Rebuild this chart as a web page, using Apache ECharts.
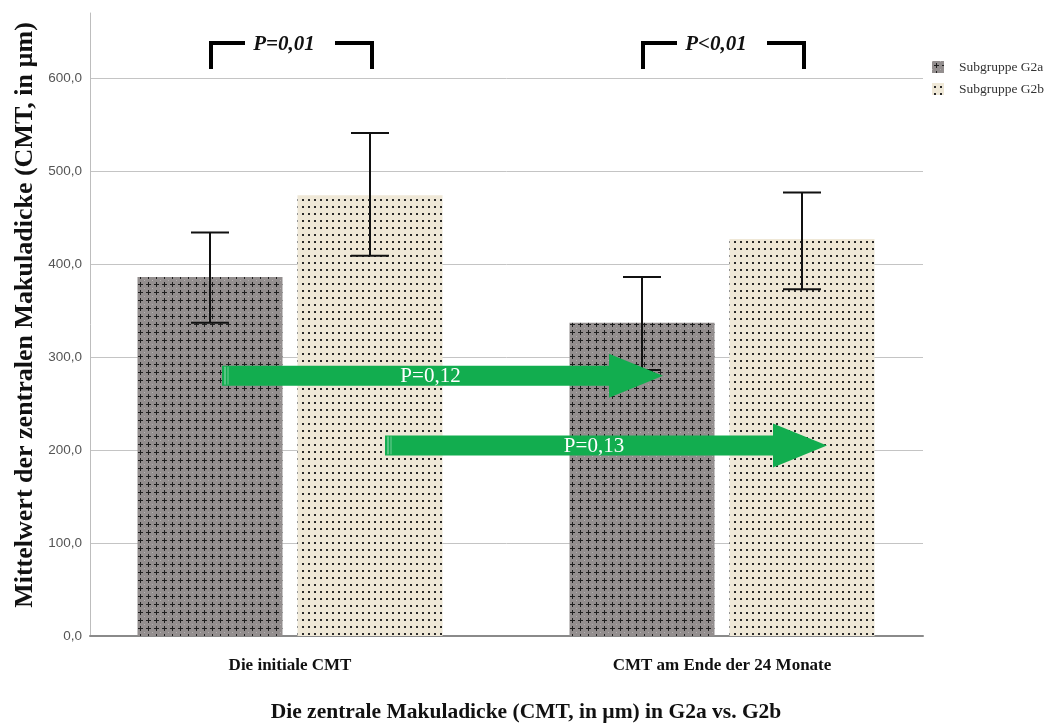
<!DOCTYPE html>
<html><head><meta charset="utf-8">
<script src="https://cdn.jsdelivr.net/npm/echarts@6/dist/echarts.min.js"></script>
<style>html,body{margin:0;padding:0;background:#fff}#c{width:1052px;height:727px}</style>
</head><body><div id="c"></div>
<script>
// ---- data ----
var categories = ['Die initiale CMT', 'CMT am Ende der 24 Monate'];
var seriesNames = ['Subgruppe G2a', 'Subgruppe G2b'];
var g2aMean = [386, 337];
var g2bMean = [474, 427];
var g2aLow = [337, 286];
var g2aHigh = [434, 386];
var g2bLow = [409, 373];
var g2bHigh = [541, 477];
var yTickValues = [0, 100, 200, 300, 400, 500, 600];
var pLabelsTop = ['P=0,01', 'P<0,01'];
var arrowLabels = ['P=0,12', 'P=0,13'];
var arrowValues = [280, 205];
var yTitle = 'Mittelwert der zentralen Makuladicke (CMT, in µm)';
var xTitle = 'Die zentrale Makuladicke (CMT, in µm) in G2a vs. G2b';

// ---- patterns ----
function crossPattern() {
  var c = document.createElement('canvas'); c.width = 8; c.height = 8;
  var g = c.getContext('2d');
  g.fillStyle = '#938e8e'; g.fillRect(0, 0, 8, 8);
  g.fillStyle = '#b5b1b1'; g.fillRect(0, 0, 1, 1);
  g.fillStyle = '#1e1e1e';
  g.fillRect(4, 2, 1, 5); g.fillRect(2, 4, 5, 1);
  return c;
}
function dotPattern() {
  var c = document.createElement('canvas'); c.width = 6; c.height = 7;
  var g = c.getContext('2d');
  g.fillStyle = '#efe8d7'; g.fillRect(0, 0, 6, 7);
  g.fillStyle = '#2a2a2a'; g.fillRect(2, 3, 2, 2);
  return c;
}
var patA = { image: crossPattern(), repeat: 'repeat' };
var patB = { image: dotPattern(), repeat: 'repeat' };

var BAR_W = 145, BAR_GAP = 15;
var OFF = (BAR_W + BAR_GAP) / 2;
var YMAX = 670;
var serif = '"Liberation Serif", "Times New Roman", serif';

function errSeries(name, low, high, offset) {
  return {
    type: 'custom', name: name + ' err', xAxisIndex: 0, yAxisIndex: 0, z: 5,
    data: low.map(function (l, i) { return [i, l, high[i]]; }),
    renderItem: function (params, api) {
      var lo = api.coord([api.value(0), api.value(1)]);
      var hi = api.coord([api.value(0), api.value(2)]);
      var x = lo[0] + offset, cw = 19;
      var st = { stroke: '#111', lineWidth: 2 };
      return { type: 'group', children: [
        { type: 'line', shape: { x1: x, y1: lo[1], x2: x, y2: hi[1] }, style: st },
        { type: 'line', shape: { x1: x - cw, y1: lo[1], x2: x + cw, y2: lo[1] }, style: st },
        { type: 'line', shape: { x1: x - cw, y1: hi[1], x2: x + cw, y2: hi[1] }, style: st }
      ]};
    },
    silent: true
  };
}

var splitColors = yTickValues.map(function () { return '#c4c4c4'; });
splitColors.push('rgba(0,0,0,0)');

var chart = echarts.init(document.getElementById('c'), null, { renderer: 'canvas' });
var option = {
  animation: false,
  backgroundColor: '#fff',
  grid: [
    { left: 74, right: 114, top: 13, bottom: 91, outerBoundsMode: 'none', containLabel: false },
    { left: 90, right: 129, top: 13, bottom: 91, outerBoundsMode: 'none', containLabel: false }
  ],
  legend: {
    data: seriesNames, orient: 'vertical', left: 927, top: 55,
    itemWidth: 12, itemHeight: 12, itemGap: 8,
    textStyle: { fontFamily: serif, fontSize: 13.5, color: '#333', padding: [0, 0, 0, 10] },
    icon: 'rect'
  },
  xAxis: [
    { type: 'category', gridIndex: 0, data: categories,
      axisLine: { show: false }, axisTick: { show: false },
      axisLabel: { margin: 21, fontFamily: serif, fontWeight: 'bold', fontSize: 17, color: '#111' }
    },
    { type: 'value', gridIndex: 1, min: 0, max: 1, show: true,
      axisLine: { show: true, onZero: false, lineStyle: { color: '#8a8a8a', width: 2 } },
      axisTick: { show: false }, axisLabel: { show: false }, splitLine: { show: false } }
  ],
  yAxis: [
    { type: 'value', gridIndex: 0, min: 0, max: YMAX, show: false },
    { type: 'value', gridIndex: 1, min: 0, max: YMAX, interval: 100,
      axisLine: { show: true, lineStyle: { color: '#bdbdbd', width: 1 } },
      axisTick: { show: false },
      axisLabel: {
        margin: 8, fontFamily: '"Liberation Sans", Arial, sans-serif', fontSize: 13.5, color: '#555',
        formatter: function (v) { return yTickValues.indexOf(v) >= 0 ? v.toFixed(1).replace('.', ',') : ''; }
      },
      splitLine: { show: true, lineStyle: { color: splitColors, width: 1 } }
    }
  ],
  series: [
    { type: 'bar', name: seriesNames[0], data: g2aMean, xAxisIndex: 0, yAxisIndex: 0,
      barWidth: BAR_W, barGap: (BAR_GAP / BAR_W * 100) + '%', itemStyle: { color: patA } },
    { type: 'bar', name: seriesNames[1], data: g2bMean, xAxisIndex: 0, yAxisIndex: 0,
      barWidth: BAR_W, itemStyle: { color: patB } },
    errSeries(seriesNames[0], g2aLow, g2aHigh, -OFF),
    errSeries(seriesNames[1], g2bLow, g2bHigh, OFF)
  ]
};
chart.setOption(option);

// ---- annotations ----
function px(cat) { return chart.convertToPixel({ xAxisIndex: 0 }, cat); }
function py(v) { return chart.convertToPixel({ yAxisIndex: 0 }, v); }
var gfx = [];
gfx.push({ type: 'text', x: 25, y: 315, rotation: Math.PI / 2, z: 10, style: {
  text: yTitle, x: 0, y: 0, align: 'center', verticalAlign: 'middle',
  font: 'bold 26px ' + serif, fill: '#111' } });
gfx.push({ type: 'text', x: 526, y: 712, z: 10, style: {
  text: xTitle, x: 0, y: 0, align: 'center', verticalAlign: 'middle',
  font: 'bold 21.5px ' + serif, fill: '#111' } });
// significance brackets
for (var i = 0; i < categories.length; i++) {
  var cx = px(i), xl = cx - OFF + 1, xr = cx + OFF + 2, yt = 43, yb = 69;
  var st = { stroke: '#000', lineWidth: 4, fill: null };
  gfx.push({ type: 'polyline', shape: { points: [[xl, yb], [xl, yt], [xl + 34, yt]] }, style: st, z: 10 });
  gfx.push({ type: 'polyline', shape: { points: [[xr - 37, yt], [xr, yt], [xr, yb]] }, style: st, z: 10 });
  gfx.push({ type: 'text', x: cx - 6, y: 45, z: 10, style: {
    text: pLabelsTop[i], x: 0, y: 0, align: 'center', verticalAlign: 'middle',
    font: 'italic bold 21px ' + serif, fill: '#111' } });
}
// green arrows (start offset from cat 0 centre, tip offset from cat 1 centre)
var arrowStart = [-68, 95], arrowTip = [-59, 105];
for (var k = 0; k < 2; k++) {
  var x0 = px(0) + arrowStart[k], xt = px(1) + arrowTip[k], xh = xt - 54;
  var yc = py(arrowValues[k]);
  gfx.push({ type: 'polygon', z: 20, shape: { points: [
    [x0, yc - 10], [xh, yc - 10], [xh, yc - 22], [xt, yc], [xh, yc + 22], [xh, yc + 10], [x0, yc + 10]] },
    style: { fill: '#12ad4f' } });
  gfx.push({ type: 'line', z: 21, shape: { x1: x0 + 3, y1: yc - 9, x2: x0 + 3, y2: yc + 9 },
    style: { stroke: 'rgba(255,255,255,0.6)', lineWidth: 1 } });
  gfx.push({ type: 'line', z: 21, shape: { x1: x0 + 6, y1: yc - 9, x2: x0 + 6, y2: yc + 9 },
    style: { stroke: 'rgba(255,255,255,0.4)', lineWidth: 1 } });
  gfx.push({ type: 'text', z: 22, x: (x0 + xh) / 2 + 15, y: yc + 1, style: {
    text: arrowLabels[k], x: 0, y: 0, align: 'center', verticalAlign: 'middle',
    font: '21px ' + serif, fill: '#ffffff' } });
}
chart.setOption({ graphic: gfx });
</script>
</body></html>
